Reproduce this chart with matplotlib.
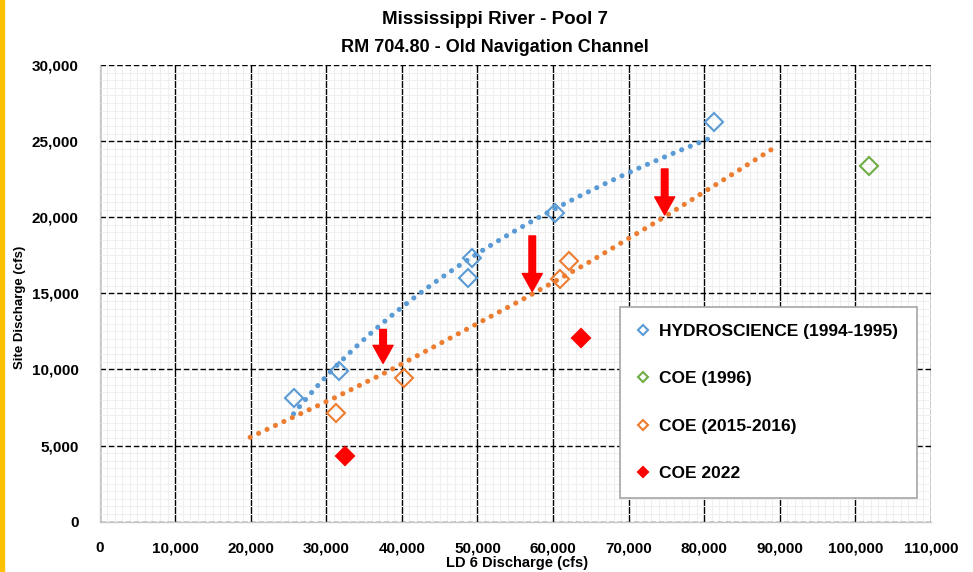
import numpy as np
import matplotlib
matplotlib.use("Agg")
import matplotlib.pyplot as plt
from matplotlib import font_manager
from matplotlib.ticker import MultipleLocator, FuncFormatter
from matplotlib.patches import Rectangle

# narrowest family that is actually installed
names = {f.name for f in font_manager.fontManager.ttflist}
main_font = next(f for f in ['Liberation Sans Narrow', 'DejaVu Sans Condensed', 'Liberation Sans', 'DejaVu Sans']
                 if f in names)
plt.rcParams['font.family'] = [main_font, 'DejaVu Sans']
plt.rcParams['font.weight'] = 'bold'

# data (cfs)
hydro_x = [25670, 31700, 48720, 49300, 60200, 81300]
hydro_y = [8130, 9920, 15990, 17300, 20300, 26280]

coe96_x = [101830]
coe96_y = [23390]

coe1516_x = [31230, 40290, 60860, 62090]
coe1516_y = [7160, 9460, 15930, 17130]

coe22_x = [32480, 63640]
coe22_y = [4320, 12090]

# orange trend line as drawn
coe_trend_x = [19930, 30970, 38250, 56490, 64740, 74240, 83420, 89380]
coe_trend_y = [5545, 8108, 9901, 14740, 17040, 19870, 22730, 24600]

# red arrows: x, top, tip
arrow_x = [37510, 57250, 74770]
arrow_top = [12630, 18770, 23170]
arrow_tip = [10400, 15120, 20150]

blue = '#5B9BD5'
orange = '#ED7D31'
green = '#70AD47'
red = '#FF0000'

fig = plt.figure(figsize=(9.73, 5.72), dpi=100)
ax = fig.add_axes([99.5 / 973, 1 - 521.7 / 572, (931 - 99.5) / 973, (521.7 - 65) / 572])

# hydroscience log trendline (least squares on ln x, like Excel)
a, b = np.polyfit(np.log(hydro_x), hydro_y, 1)
tx = np.linspace(min(hydro_x), max(hydro_x), 200)
dots = dict(linewidth=3.7, linestyle=(0, (0.01, 1.8)), dash_capstyle='round', zorder=3)
ax.plot(tx, a * np.log(tx) + b, color=blue, **dots)
ax.plot(coe_trend_x, coe_trend_y, color=orange, **dots)

mk = dict(linestyle='none', marker='D', markersize=9.5, markeredgewidth=1.5, zorder=4)
ax.plot(hydro_x, hydro_y, color=blue, markerfacecolor='none', label='HYDROSCIENCE (1994-1995)', **mk)
ax.plot(coe96_x, coe96_y, color=green, markerfacecolor='none', label='COE (1996)', **mk)
ax.plot(coe1516_x, coe1516_y, color=orange, markerfacecolor='none', label='COE (2015-2016)', **mk)
ax.plot(coe22_x, coe22_y, color=red, markerfacecolor=red, label='COE 2022', **mk)

for x, t, h in zip(arrow_x, arrow_top, arrow_tip):
    ax.annotate('', xy=(x, h), xytext=(x, t),
                arrowprops=dict(arrowstyle='simple,head_length=0.9,head_width=1.0,tail_width=0.33',
                                color=red, mutation_scale=14.4, shrinkA=0, shrinkB=0), zorder=5)

ax.set_xlim(0, 110000)
ax.set_ylim(0, 30000)
ax.xaxis.set_major_locator(MultipleLocator(10000))
ax.yaxis.set_major_locator(MultipleLocator(5000))
ax.xaxis.set_minor_locator(MultipleLocator(1000))
ax.yaxis.set_minor_locator(MultipleLocator(500))
fmt = FuncFormatter(lambda v, p: f'{int(v):,}')
ax.xaxis.set_major_formatter(fmt)
ax.yaxis.set_major_formatter(fmt)

ax.grid(which='minor', color='#efefef', linewidth=0.8)
ax.grid(which='major', axis='x', color='black', linewidth=1.0)
ax.grid(which='major', axis='y', color='black', linewidth=1.0, linestyle=(0, (4, 2)))
ax.set_axisbelow(True)
ax.get_xgridlines()[0].set_visible(False)
ax.get_ygridlines()[0].set_visible(False)

for s in ['top', 'right']:
    ax.spines[s].set_visible(False)
for s in ['left', 'bottom']:
    ax.spines[s].set_color('#c8c8c8')
    ax.spines[s].set_linewidth(1.0)

ax.tick_params(which='both', length=0)
ax.tick_params(axis='x', pad=14, labelsize=11)
ax.tick_params(axis='y', pad=15, labelsize=11)

fig.text(495 / 973, 1 - 20 / 572, 'Mississippi River - Pool 7', ha='center', va='center', fontsize=13.5, fontweight='bold')
fig.text(495 / 973, 1 - 47 / 572, 'RM 704.80 - Old Navigation Channel', ha='center', va='center', fontsize=13, fontweight='bold')
fig.text(517 / 973, 1 - 563 / 572, 'LD 6 Discharge (cfs)', ha='center', va='center', fontsize=10.5, fontweight='bold')
fig.text(20 / 973, 1 - 307 / 572, 'Site Discharge (cfs)', ha='center', va='center', rotation=90, fontsize=9.5, fontweight='bold')

leg = ax.legend(loc='upper left', bbox_to_anchor=(620 / 973, 1 - 313 / 572, (917 - 620) / 973, 0.01),
                bbox_transform=fig.transFigure, mode='expand', fontsize=12.5, markerscale=0.5,
                frameon=True, fancybox=False, edgecolor='#a6a6a6', framealpha=1,
                labelspacing=1.86, handlelength=0.8, handletextpad=0.5, borderpad=0.95, borderaxespad=0)
leg.get_frame().set_linewidth(1.2)

fig.patches.append(Rectangle((0, 0), 4 / 973, 1, transform=fig.transFigure, color='#FFC000', zorder=10))

fig.savefig('out.png', dpi=100)
